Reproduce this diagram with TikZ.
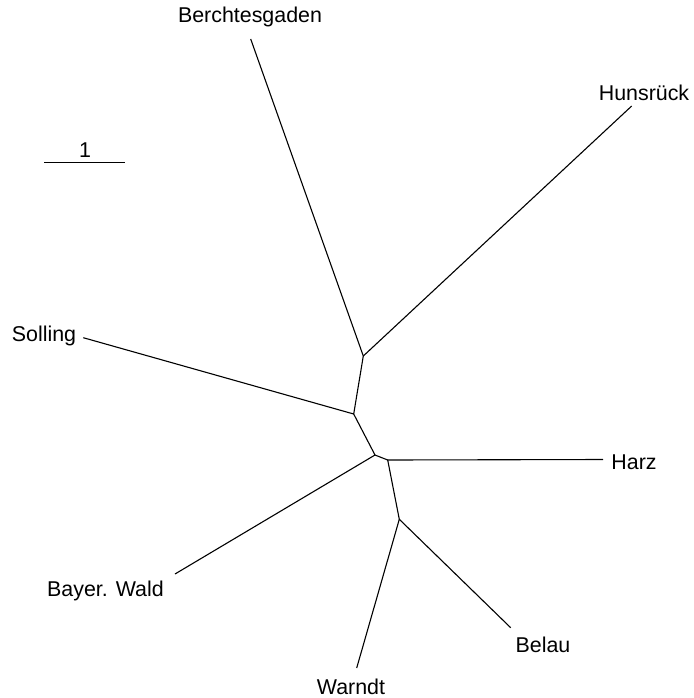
\documentclass[tikz,border=0pt]{standalone}
\usepackage{fontspec}
\setmainfont{Liberation Sans}
\begin{document}
\begin{tikzpicture}[x=0.5pt,y=-0.5pt,
  branch/.style={draw=black,line width=0.55pt},
  lbl/.style={inner sep=0pt,font=\fontsize{10.7}{12}\selectfont}]
\useasboundingbox (0,0) rectangle (693,698);
% internal vertices
\coordinate (A) at (363.3,356);
\coordinate (B) at (353.7,414);
\coordinate (C) at (375,455);
\coordinate (D) at (387.7,460);
\coordinate (E) at (399.3,519.3);
% leaf ends
\coordinate (lBer) at (250.7,39);
\coordinate (lHun) at (631.7,106);
\coordinate (lSol) at (83.3,337.7);
\coordinate (lHar) at (603,459.5);
\coordinate (lBay) at (175,574);
\coordinate (lBel) at (510.7,627.7);
\coordinate (lWar) at (356.7,668);
% labels
\node[lbl] (Ber) at (250,17) {Berchtesgaden};
\node[lbl] (Hun) at (644,92.5) {Hunsrück};
\node[lbl] (Sol) at (44,336) {Solling};
\node[lbl] (Har) at (634,462) {Harz};
\node[lbl] (Bay) at (105.5,591) {Bayer. Wald};
\node[lbl] (Bel) at (543,645) {Belau};
\node[lbl] (War) at (351,687) {Warndt};
% branches
\draw[branch] (A) -- (lBer);
\draw[branch] (A) -- (lHun);
\draw[branch] (A) -- (B);
\draw[branch] (B) -- (lSol);
\draw[branch] (B) -- (C);
\draw[branch] (C) -- (lBay);
\draw[branch] (C) -- (D);
\draw[branch] (D) -- (lHar);
\draw[branch] (D) -- (E);
\draw[branch] (E) -- (lBel);
\draw[branch] (E) -- (lWar);
% scale bar
\coordinate (s1) at (44.3,162.3);
\coordinate (s2) at (125,162.3);
\draw[branch] (s1) -- (s2);
\node[lbl] (sc) at (85,150) {1};
\end{tikzpicture}
\end{document}
